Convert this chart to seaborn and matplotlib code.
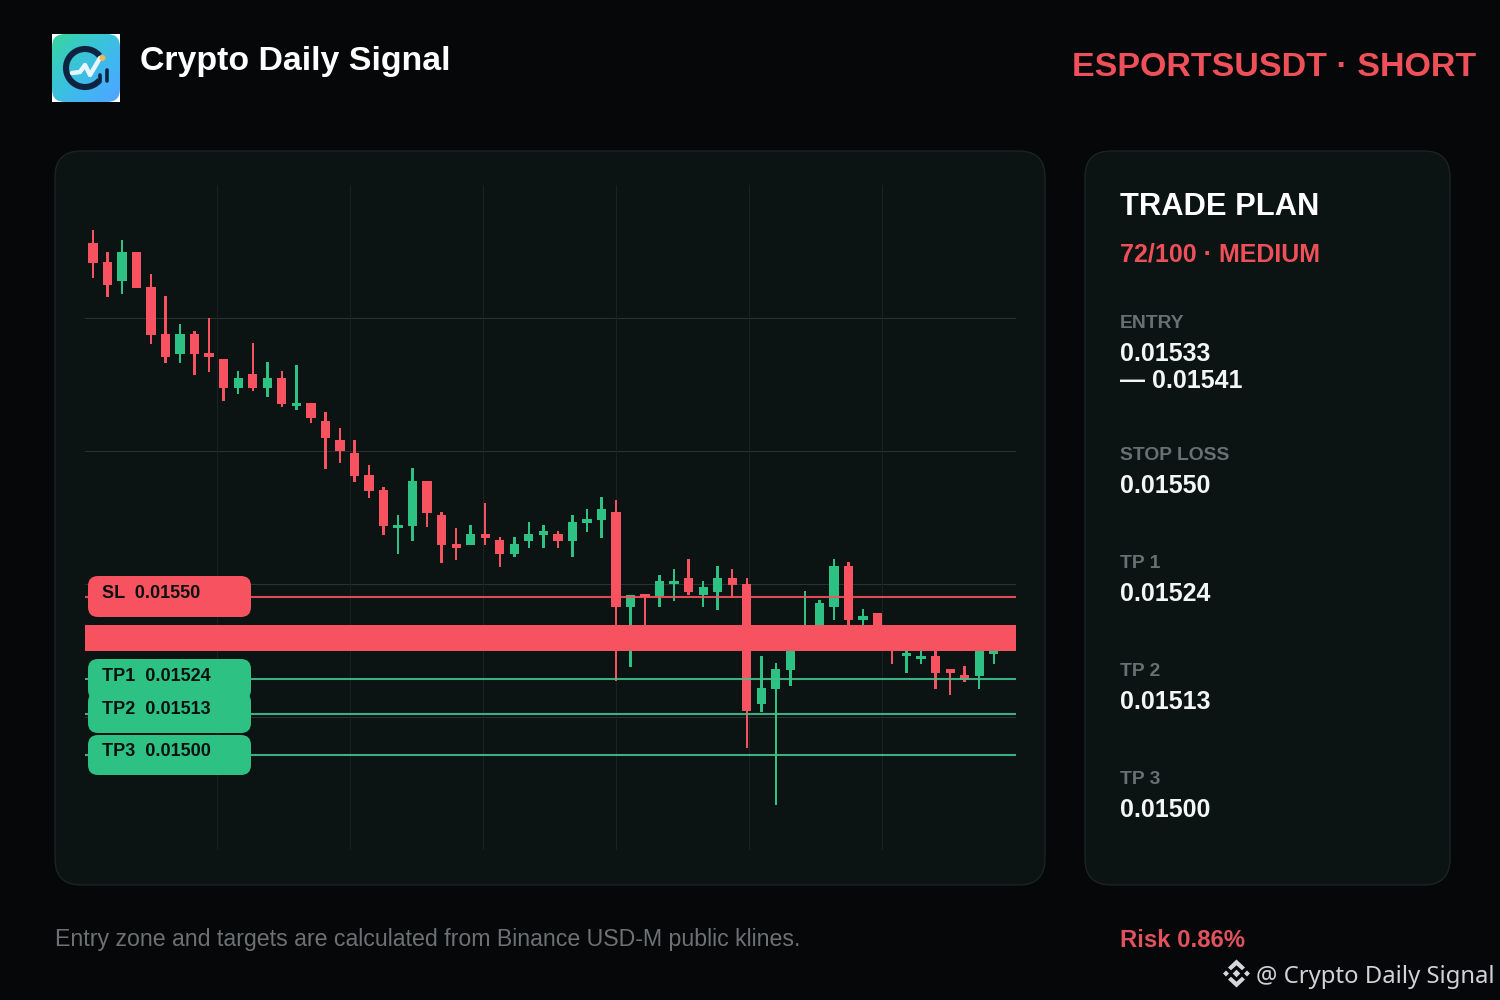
import numpy as np
import pandas as pd
import seaborn as sns
import matplotlib.pyplot as plt
from matplotlib.patches import FancyBboxPatch, Arc, Circle, Polygon

# candle values, one list per field
highs = [0.016661, 0.016592, 0.016630, 0.016592, 0.016522, 0.016453, 0.016364, 0.016342, 0.016383,
         0.016253, 0.016215, 0.016304, 0.016244, 0.016215, 0.016234, 0.016114, 0.016086, 0.016035,
         0.015997, 0.015918, 0.015848, 0.015760, 0.015908, 0.015867, 0.015769, 0.015718, 0.015728,
         0.015798, 0.015690, 0.015690, 0.015737, 0.015728, 0.015709, 0.015760, 0.015779, 0.015816,
         0.015807, 0.015506, 0.015509, 0.015570, 0.015589, 0.015620, 0.015551, 0.015598, 0.015589,
         0.015560, 0.015313, 0.015291, 0.015364, 0.015519, 0.015491, 0.015620, 0.015611, 0.015462,
         0.015449, 0.015389, 0.015348, 0.015332, 0.015329, 0.015272, 0.015282, 0.015364, 0.015348]
body_tops = [0.016620, 0.016560, 0.016592, 0.016592, 0.016481, 0.016332, 0.016332, 0.016332, 0.016272,
             0.016253, 0.016193, 0.016206, 0.016193, 0.016193, 0.016114, 0.016114, 0.016057, 0.015997,
             0.015956, 0.015886, 0.015839, 0.015728, 0.015867, 0.015867, 0.015760, 0.015668, 0.015699,
             0.015699, 0.015680, 0.015668, 0.015699, 0.015709, 0.015699, 0.015737, 0.015747, 0.015779,
             0.015769, 0.015506, 0.015509, 0.015551, 0.015551, 0.015560, 0.015532, 0.015560, 0.015560,
             0.015541, 0.015212, 0.015272, 0.015364, 0.015411, 0.015481, 0.015598, 0.015598, 0.015440,
             0.015449, 0.015389, 0.015323, 0.015313, 0.015313, 0.015272, 0.015253, 0.015364, 0.015348]
body_bottoms = [0.016557, 0.016487, 0.016500, 0.016478, 0.016329, 0.016260, 0.016269, 0.016269, 0.016260,
                0.016161, 0.016161, 0.016161, 0.016161, 0.016111, 0.016104, 0.016067, 0.016003, 0.015962,
                0.015883, 0.015835, 0.015725, 0.015718, 0.015725, 0.015766, 0.015665, 0.015655, 0.015665,
                0.015687, 0.015636, 0.015636, 0.015677, 0.015696, 0.015677, 0.015677, 0.015734, 0.015744,
                0.015468, 0.015468, 0.015500, 0.015503, 0.015541, 0.015516, 0.015506, 0.015516, 0.015538,
                0.015139, 0.015161, 0.015209, 0.015269, 0.015402, 0.015364, 0.015468, 0.015427, 0.015427,
                0.015389, 0.015364, 0.015313, 0.015304, 0.015260, 0.015260, 0.015237, 0.015250, 0.015320]
lows = [0.016510, 0.016449, 0.016459, 0.016478, 0.016301, 0.016241, 0.016241, 0.016203, 0.016212,
        0.016120, 0.016142, 0.016152, 0.016133, 0.016101, 0.016092, 0.016051, 0.015905, 0.015924,
        0.015864, 0.015813, 0.015696, 0.015636, 0.015677, 0.015722, 0.015608, 0.015617, 0.015665,
        0.015665, 0.015595, 0.015627, 0.015655, 0.015655, 0.015655, 0.015627, 0.015706, 0.015687,
        0.015234, 0.015278, 0.015364, 0.015468, 0.015487, 0.015506, 0.015468, 0.015459, 0.015500,
        0.015022, 0.015136, 0.014842, 0.015218, 0.015364, 0.015364, 0.015427, 0.015408, 0.015405,
        0.015389, 0.015288, 0.015260, 0.015288, 0.015209, 0.015190, 0.015231, 0.015209, 0.015288]
directions = ["down", "down", "up", "down", "down", "down", "up", "down", "down",
              "down", "up", "down", "up", "down", "up", "down", "down", "down",
              "down", "down", "down", "up", "up", "down", "down", "down", "up",
              "down", "down", "up", "up", "up", "down", "up", "up", "up",
              "down", "up", "down", "up", "up", "down", "up", "up", "down",
              "down", "up", "up", "up", "up", "up", "up", "down", "up",
              "down", "down", "up", "up", "down", "down", "down", "up", "up"]

entry_zone = [0.01533, 0.01541]
stop_loss = 0.01550
targets = [0.01524, 0.01513, 0.01500]
h_grid = [0.016383, 0.015962, 0.015541, 0.015120]
v_grid = [8.54, 17.69, 26.85, 36.0, 45.15, 54.3]

plan_labels = ["STOP LOSS", "TP 1", "TP 2", "TP 3"]
plan_values = ["0.01550", "0.01524", "0.01513", "0.01500"]
tag_texts = ["TP1  0.01524", "TP2  0.01513", "TP3  0.01500"]

RED = "#f6525f"
GREEN = "#2dc183"
BG = "#050709"
PANEL = "#0c1313"
W, H = 1500, 1000

sns.set_theme(style="dark", rc={"axes.grid": False})
plt.rcParams["font.family"] = ["Liberation Sans", "DejaVu Sans"]

df = pd.DataFrame({"idx": range(len(highs)), "high": highs, "top": body_tops,
                   "bottom": body_bottoms, "low": lows, "dir": directions})

fig = plt.figure(figsize=(15, 10), dpi=100, facecolor=BG)


def pixel_axes(z):
    a = fig.add_axes([0, 0, 1, 1], zorder=z, facecolor="none")
    a.set_xlim(0, W)
    a.set_ylim(H, 0)
    a.axis("off")
    return a


under = pixel_axes(0)
over = pixel_axes(3)

# panels
for x0, x1 in [(55, 1045), (1085, 1450)]:
    under.add_patch(FancyBboxPatch((x0, 151), x1 - x0, 734, boxstyle="round,pad=0,rounding_size=26",
                                   fc=PANEL, ec="#1b2323", lw=1))

# candle chart
ax = fig.add_axes([85 / W, 1 - 850 / H, (1016 - 85) / W, (850 - 185) / H], zorder=1, facecolor="none")
for y in h_grid:
    ax.axhline(y, color="#2a3231", lw=0.8, zorder=0)
for x in v_grid:
    ax.axvline(x, color="#1a2221", lw=0.8, zorder=0)

for direction, colour in [("down", RED), ("up", GREEN)]:
    sub = df[df["dir"] == direction]
    sns.barplot(x=sub["idx"], y=sub["high"] - sub["low"], bottom=sub["low"], native_scale=True,
                width=0.17, color=colour, saturation=1, errorbar=None, linewidth=0, zorder=2, ax=ax)
    sns.barplot(x=sub["idx"], y=sub["top"] - sub["bottom"], bottom=sub["bottom"], native_scale=True,
                width=0.64, color=colour, saturation=1, errorbar=None, linewidth=0, zorder=3, ax=ax)

ax.axhspan(entry_zone[0], entry_zone[1], color=RED, lw=0, zorder=4)
ax.axhline(stop_loss, color=RED, lw=1.5, alpha=0.9, zorder=5)
for t in targets:
    ax.axhline(t, color="#45c08d", lw=1.5, alpha=0.9, zorder=5)

ax.set_xlim(-0.544, 63.53)
ax.set_ylim(0.014699, 0.016804)
ax.set_xlabel("")
ax.set_ylabel("")
ax.set_xticks([])
ax.set_yticks([])
sns.despine(ax=ax, left=True, bottom=True)

# price tags on the left of the chart
tag_font = dict(fontsize=13, fontweight="bold", color="#0b1110", va="baseline")


def tag(y0, y1, colour):
    over.add_patch(FancyBboxPatch((88, y0), 163, y1 - y0, boxstyle="round,pad=0,rounding_size=10",
                                  fc=colour, ec="none"))


tag(576, 617, RED)
over.text(102, 598, "SL  0.01550", **tag_font)
for y0, y1 in [(659, 700), (692, 733), (735, 775)]:
    tag(y0, y1, GREEN)
for base, s in zip([681, 714, 756], tag_texts):
    over.text(102, base, s, **tag_font)

# header
over.text(140, 70, "Crypto Daily Signal", fontsize=24.4, fontweight="bold", color="white", va="baseline")
over.text(1476, 76, "ESPORTSUSDT · SHORT", fontsize=24.5, fontweight="bold", color="#ee5059", va="baseline", ha="right")

# logo
over.add_patch(plt.Rectangle((52, 34), 68, 68, fc="white", ec="none"))
grad = np.zeros((68, 68, 3))
c1, c2 = np.array([0.22, 0.84, 0.6]), np.array([0.32, 0.64, 1.0])
for i in range(68):
    for j in range(68):
        t = (i + j) / 134
        grad[i, j] = c1 * (1 - t) ** 2 + np.array([0.2, 0.76, 0.97]) * 2 * t * (1 - t) + c2 * t ** 2
im = over.imshow(grad, extent=(52, 120, 102, 34), aspect="auto", zorder=2)
clip = FancyBboxPatch((52, 34), 68, 68, boxstyle="round,pad=0,rounding_size=13", fc="none", ec="none",
                      transform=over.transData)
over.add_patch(clip)
im.set_clip_path(clip)
over.set_xlim(0, W)
over.set_ylim(H, 0)
over.add_patch(Arc((85, 68), 38, 38, theta1=40, theta2=320, color="#0f2340", lw=4.4, zorder=3))
over.plot([72, 80, 85, 90, 100], [73, 72, 65, 75, 58], color="#e8f6fb", lw=3.2, zorder=4, solid_capstyle="round")
over.add_patch(Circle((102.5, 58), 3, fc="#f2b455", ec="none", zorder=5))
over.plot([106.5, 106.5], [70, 81], color="#0f2340", lw=2.6, zorder=4, solid_capstyle="round")
over.plot([99.5, 99.5], [75, 81], color="#0f2340", lw=2.6, zorder=4, solid_capstyle="round")

# trade plan column
over.text(1120, 215, "TRADE PLAN", fontsize=22.2, fontweight="bold", color="white", va="baseline")
over.text(1120, 261, "72/100 · MEDIUM", fontsize=18, fontweight="bold", color="#ee5059", va="baseline")

label_font = dict(fontsize=13.9, fontweight="bold", color="#697071", va="baseline")
value_font = dict(fontsize=18, fontweight="bold", color="#f4f6f6", va="baseline")
over.text(1120, 328, "ENTRY", **label_font)
over.text(1120, 361, "0.01533", **value_font)
over.text(1120, 388, "— 0.01541", **value_font)
for lab_y, val_y, lab, val in zip([460, 568, 676, 784], [493, 601, 709, 817], plan_labels, plan_values):
    over.text(1120, lab_y, lab, **label_font)
    over.text(1120, val_y, val, **value_font)

# footer
over.text(55, 946, "Entry zone and targets are calculated from Binance USD-M public klines.",
          fontsize=16.7, color="#6c7172", va="baseline")
over.text(1120, 947, "Risk 0.86%", fontsize=17.2, fontweight="bold", color="#e0525e", va="baseline")
over.text(1256, 983, "@ Crypto Daily Signal", fontsize=17.2, color="#cfd3d5", va="baseline",
          family=["Noto Sans", "DejaVu Sans"])

# binance mark
cx, cy = 1236.5, 973.5
mark = "#d5d8da"
for dx, dy, r in [(0, 0, 3.8), (-10.5, 0, 3), (10.5, 0, 3)]:
    over.add_patch(Polygon([(cx + dx - r, cy + dy), (cx + dx, cy + dy - r), (cx + dx + r, cy + dy), (cx + dx, cy + dy + r)],
                           fc=mark, ec="none"))
for s in (-1, 1):
    over.add_patch(Polygon([(cx - 8.5, cy + s * 6), (cx, cy + s * 14), (cx + 8.5, cy + s * 6), (cx + 5.5, cy + s * 3.2),
                            (cx, cy + s * 8.2), (cx - 5.5, cy + s * 3.2)], fc=mark, ec="none"))

fig.savefig("out.png", dpi=100, facecolor=BG)
